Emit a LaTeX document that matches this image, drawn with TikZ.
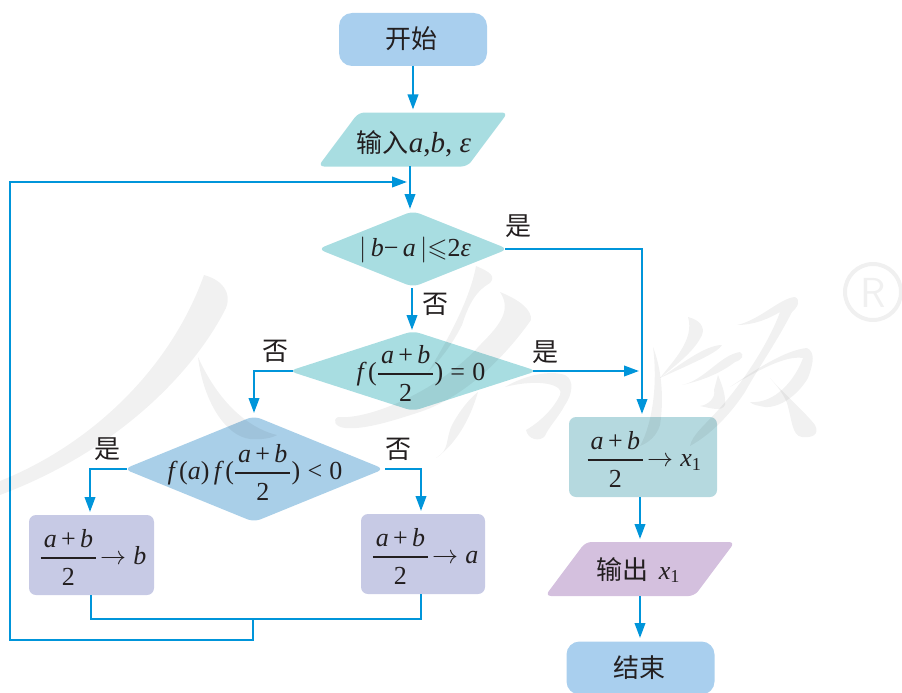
\documentclass[tikz,border=0pt]{standalone}
\usepackage{fix-cm}
\usepackage{amsmath,amssymb}
\usepackage{fontspec}
\setmainfont{Liberation Serif}
\newfontfamily\cjk{Noto Sans CJK SC}
\usetikzlibrary{arrows.meta,shapes.geometric}
\definecolor{flowc}{HTML}{0095DA}
\definecolor{blueb}{HTML}{A9CFE8}
\definecolor{termb}{HTML}{A9CFEE}
\definecolor{tealb}{HTML}{A8DDE1}
\definecolor{greyb}{HTML}{B5D9DF}
\definecolor{lilac}{HTML}{C7CAE5}
\definecolor{plum}{HTML}{D4C0DE}
\definecolor{ink}{HTML}{231F20}
\newcommand{\vi}[1]{\textit{#1}}
\newcommand{\vu}[1]{\textup{#1}}
\newcommand{\half}{\genfrac{}{}{1.7pt}{0}{\hspace{3pt}\vi{a}\,\vu{+}\,\vi{b}\hspace{3pt}}{\rule{0pt}{21pt}\vu{2}}}
\newcommand{\toarr}{\!\rightarrow}
\newcommand{\hanzi}[1]{{\cjk\fontsize{26}{30}\selectfont #1}}
\tikzset{
  x=1pt,y=-1pt,
  every node/.style={text=ink,font=\fontsize{26}{30}\selectfont,inner sep=0pt,outer sep=0pt},
  flow/.style={draw=flowc,line width=2.2pt,-{Triangle[length=15pt,width=10.5pt]},shorten >=3pt},
  link/.style={draw=flowc,line width=2.2pt},
  term/.style={rectangle,rounded corners=13pt,fill=termb,minimum width=148pt,minimum height=53pt},
  para/.style={trapezium,trapezium left angle=68,trapezium right angle=112,trapezium stretches=true,rounded corners=6pt,minimum width=190pt,minimum height=54pt},
  dia/.style={diamond,rounded corners=7pt,aspect=1},
  pbox/.style={rectangle,rounded corners=7pt,minimum height=80pt},
  wm/.style={fill=black,fill opacity=.055,draw=none}
}
\begin{document}
\begin{tikzpicture}
\useasboundingbox (0,0) rectangle (902,693);
\clip (0,0) rectangle (902,693);
% shapes
\node[term] (start) at (413,39.5) {};
\node[para,fill=tealb] (inp) at (413,139.5) {\phantom{x}};
\node[dia,fill=tealb,minimum width=190pt,minimum height=76pt] (d1) at (413,249) {};
\node[dia,fill=tealb,minimum width=248pt,minimum height=80pt] (d2) at (413,371) {};
\node[dia,fill=blueb,minimum width=260pt,minimum height=106pt] (d3) at (254,469) {};
\node[pbox,fill=lilac,minimum width=125pt] (bl) at (91.5,555) {};
\node[pbox,fill=lilac,minimum width=124pt] (br) at (423,554) {};
\node[pbox,fill=greyb,minimum width=148pt] (bx) at (643,457) {};
\node[para,fill=plum] (out) at (640,569) {\phantom{x}};
\node[term] (stop) at (640.5,668) {};
% texts
\node (startt) at (411,39) {\hanzi{开始}};
\node (inpt) at (414,144) {\hanzi{输入}{\fontsize{29}{30}\selectfont\vi{a},\vi{b}, \vi{ε}}};
\node (d1t) at (415,250) {$|\,\vi{b}\vu{−}\,\vi{a}\,|{\leqslant}\vu{2}\vi{ε}$};
\node (d2t) at (421,373) {$\vi{f}\,\vu{(}\half\vu{)}\;\vu{=}\;\vu{0}$};
\node (d3t) at (255,472) {$\vi{f}\,\vu{(}\vi{a}\vu{)}\,\vi{f}\,\vu{(}\half\vu{)}\;\vu{<}\;\vu{0}$};
\node (blt) at (93,557) {$\half\toarr\vi{b}$};
\node (brt) at (425,556) {$\half\toarr\vi{a}$};
\node (bxt) at (644,459) {$\half\toarr\vi{x}_{\vu{1}}$};
\node (outt) at (638,570) {\hanzi{输出}\ \,$\vi{x}_{\vu{1}}$};
\node (stopt) at (639,668) {\hanzi{结束}};
% labels
\node (l1) at (518,226) {\hanzi{是}};
\node (l2) at (435,304) {\hanzi{否}};
\node (l3) at (545,352) {\hanzi{是}};
\node (l4) at (275,351) {\hanzi{否}};
\node (l5) at (107,449) {\hanzi{是}};
\node (l6) at (398,449) {\hanzi{否}};
% connectors
\coordinate (c1) at (642,249);
\coordinate (c2) at (254,371);
\coordinate (c3) at (90,469);
\coordinate (c4) at (421,469);
\coordinate (j0) at (91,619);
\coordinate (j1) at (421,619);
\coordinate (j2) at (253,619);
\coordinate (j3) at (253,640);
\coordinate (j4) at (10,640);
\coordinate (j5) at (10,182);
\coordinate (j6) at (410,182);
\coordinate (t1) at (642,371);
\draw[flow] (start.south) -- (start.south |- inp.north);
\draw[flow] (410,166) -- (410,212);
\draw[flow] ([xshift=-3pt]d1.east) -- (c1) -- (c1 |- bx.north);
\draw[flow] (412,288) -- (412,333);
\draw[flow] ([xshift=-4pt]d2.east) -- (t1);
\draw[flow] ([xshift=4pt]d2.west) -- (c2) -- (c2 |- d3.north);
\draw[flow] ([xshift=3pt]d3.west) -- (c3) -- (c3 |- bl.north);
\draw[flow] ([xshift=1pt]d3.east) -- (c4) -- (c4 |- br.north);
\draw[flow] (640,497) -- (640,542);
\draw[flow] (640,596) -- (640,641);
\draw[link] (91,595) -- (j0) -- (j1) -- (421,594);
\draw[flow] (j2) -- (j3) -- (j4) -- (j5) -- (j6);
% watermark: person
\fill[wm] (204,275) .. controls (222,280) and (232,292) .. (226,308) .. controls (195,370) and (120,450) .. (0,495) -- (0,481) .. controls (90,445) and (170,370) .. (204,275) -- cycle;
\fill[wm] (198,357) .. controls (203,400) and (225,436) .. (250,439) .. controls (262,440) and (272,438) .. (277,435) .. controls (255,430) and (222,410) .. (198,357) -- cycle;
% watermark: jiao
\fill[wm] (476,266) .. controls (490,272) and (496,276) .. (490,283) .. controls (478,290) and (470,300) .. (462,325) .. controls (452,345) and (440,360) .. (428,372) .. controls (445,345) and (470,300) .. (476,266) -- cycle;
\fill[wm] (500,292) .. controls (520,300) and (532,310) .. (531,320) .. controls (510,350) and (470,395) .. (420,412) .. controls (395,420) and (365,430) .. (345,428) .. controls (335,427) and (332,420) .. (338,417) .. controls (370,420) and (440,390) .. (480,345) .. controls (500,325) and (512,310) .. (500,292) -- cycle;
\fill[wm] (478,392) .. controls (470,420) and (455,445) .. (436,458) .. controls (450,450) and (445,440) .. (452,425) .. controls (460,410) and (470,398) .. (478,392) -- cycle;
\fill[wm] (505,387) .. controls (525,375) and (550,370) .. (565,375) .. controls (575,380) and (572,395) .. (565,405) .. controls (558,418) and (548,428) .. (545,436) .. controls (540,442) and (528,440) .. (526,430) .. controls (535,425) and (552,412) .. (560,395) .. controls (565,385) and (540,378) .. (505,387) -- cycle;
% watermark: ban
\fill[wm] (653,347) .. controls (662,370) and (664,400) .. (660,425) .. controls (657,435) and (650,442) .. (640,446) .. controls (652,425) and (658,385) .. (653,347) -- cycle;
\fill[wm] (688,317) .. controls (700,320) and (705,327) .. (702,335) .. controls (695,350) and (680,362) .. (660,378) .. controls (672,362) and (695,340) .. (688,317) -- cycle;
\fill[wm] (660,378) .. controls (680,365) and (705,345) .. (722,345) .. controls (718,352) and (700,360) .. (660,378) -- cycle;
\fill[wm] (682,385) .. controls (705,380) and (720,355) .. (740,352) .. controls (745,355) and (742,360) .. (735,362) .. controls (722,372) and (705,380) .. (682,385) -- cycle;
\fill[wm] (718,375) .. controls (722,385) and (726,395) .. (725,405) .. controls (722,412) and (710,408) .. (700,406) .. controls (708,405) and (716,398) .. (714,390) -- cycle;
\fill[wm] (737,325) .. controls (760,320) and (780,298) .. (795,297) .. controls (801,300) and (798,307) .. (792,312) .. controls (775,345) and (760,365) .. (745,392) .. controls (730,415) and (710,435) .. (690,446) .. controls (692,435) and (705,425) .. (720,408) .. controls (745,380) and (770,340) .. (780,312) .. controls (770,318) and (755,325) .. (737,325) -- cycle;
\fill[wm] (730,387) .. controls (755,370) and (785,350) .. (807,348) .. controls (815,352) and (814,362) .. (808,378) .. controls (798,395) and (780,408) .. (765,407) .. controls (760,406) and (752,405) .. (750,402) .. controls (775,404) and (795,380) .. (803,358) .. controls (785,355) and (755,372) .. (730,387) -- cycle;
\fill[wm] (770,378) .. controls (785,395) and (805,412) .. (815,425) .. controls (820,435) and (812,438) .. (802,437) .. controls (792,436) and (792,420) .. (787,403) .. controls (783,393) and (776,385) .. (770,378) -- cycle;
% watermark: registered mark
\draw[black,opacity=.06,line width=4pt] (873,292) circle[radius=28];
\node[opacity=.06,text=black,font=\fontsize{42}{46}\selectfont] (wr) at (873,293) {\textsf{R}};
\end{tikzpicture}
\end{document}
